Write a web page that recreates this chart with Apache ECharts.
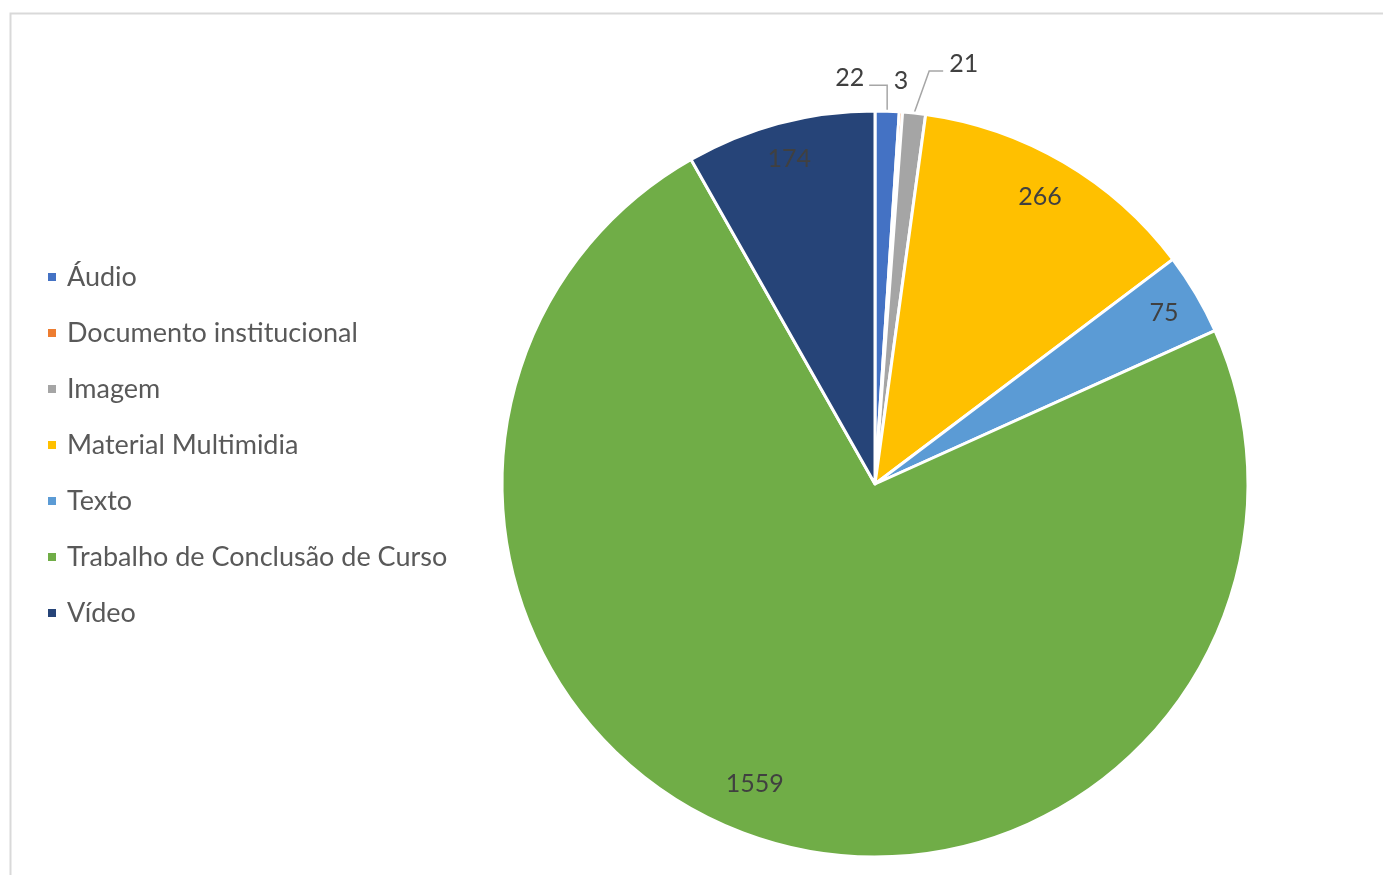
<!DOCTYPE html>
<html>
<head>
<meta charset="utf-8">
<script src="https://cdn.jsdelivr.net/npm/echarts@6/dist/echarts.min.js"></script>
<style>
html,body{margin:0;padding:0;background:#fff;}
#chart{width:1383px;height:875px;}
</style>
</head>
<body>
<div id="chart"></div>
<script>
const categories = ['Áudio','Documento institucional','Imagem','Material Multimidia','Texto','Trabalho de Conclusão de Curso','Vídeo'];
const values = [22, 3, 21, 266, 75, 1559, 174];
const colors = ['#4472C4','#ED7D31','#A5A5A5','#FFC000','#5B9BD5','#70AD47','#264478'];
const outsideLabels = [0, 1, 2];

const chart = echarts.init(document.getElementById('chart'));
const FONT = 'Lato';

const mainData = categories.map((n, i) => ({
  name: n, value: values[i],
  itemStyle: { color: colors[i] },
  label: { show: outsideLabels.includes(i) },
  labelLine: { show: outsideLabels.includes(i) && i !== 1 }
}));
const overlayData = categories.map((n, i) => ({
  name: n, value: values[i],
  itemStyle: { color: 'rgba(0,0,0,0)', borderWidth: 0 },
  label: { show: !outsideLabels.includes(i) }
}));

chart.setOption({
  animation: false,
  backgroundColor: '#fff',
  graphic: [{
    type: 'rect', left: 8, top: 11,
    shape: { width: 1400, height: 900 },
    style: { fill: 'none', stroke: '#d9d9d9', lineWidth: 2 },
    silent: true
  }],
  legend: {
    orient: 'vertical', left: 41, top: 257,
    data: categories,
    itemWidth: 10, itemHeight: 10, itemGap: 26,
    icon: 'rect',
    textStyle: { fontFamily: FONT, fontSize: 27, color: '#595959', lineHeight: 30, padding: [0,0,0,5] }
  },
  series: [{
    type: 'pie',
    center: [875, 484], radius: [0, 373],
    startAngle: 90, clockwise: true,
    avoidLabelOverlap: false,
    itemStyle: { borderColor: '#fff', borderWidth: 3 },
    label: {
      position: 'outside', formatter: '{c}',
      fontFamily: FONT, fontSize: 25, color: '#404040', distanceToLabelLine: 5
    },
    labelLine: { length: 26, length2: 18, lineStyle: { color: '#a6a6a6', width: 1.5 }, smooth: false },
    labelLayout: function (p) {
      const pts = p.labelLinePoints;
      if (!pts) return {};
      const p0 = pts[0];
      if (p.dataIndex === 0) {
        const p1 = [p0[0], p0[1] - 26];
        const p2 = [p1[0] - 18, p1[1]];
        return { x: p2[0] - 5, y: p2[1] - 7, align: 'right', verticalAlign: 'middle',
                 labelLinePoints: [p0, p1, p2] };
      }
      if (p.dataIndex === 1) {
        return { x: p0[0], y: p0[1] - 31, align: 'center', verticalAlign: 'middle' };
      }
      if (p.dataIndex === 2) {
        const p1 = [p0[0] + 15, p0[1] - 42];
        const p2 = [p1[0] + 14, p1[1]];
        return { x: p2[0] + 6, y: p2[1] - 7, align: 'left', verticalAlign: 'middle',
                 labelLinePoints: [p0, p1, p2] };
      }
      return {};
    },
    data: mainData
  }, {
    type: 'pie',
    center: [875, 484], radius: [293, 373],
    startAngle: 90, clockwise: true,
    silent: true,
    avoidLabelOverlap: false,
    label: { position: 'inside', formatter: '{c}', fontFamily: FONT, fontSize: 25, color: '#404040' },
    labelLine: { show: false },
    labelLayout: function (p) {
      if (p.dataIndex === 5) return { dx: -16, dy: -19 };
      if (p.dataIndex === 3) return { dx: -5, dy: 3 };
      return {};
    },
    data: overlayData
  }]
});
</script>
</body>
</html>
